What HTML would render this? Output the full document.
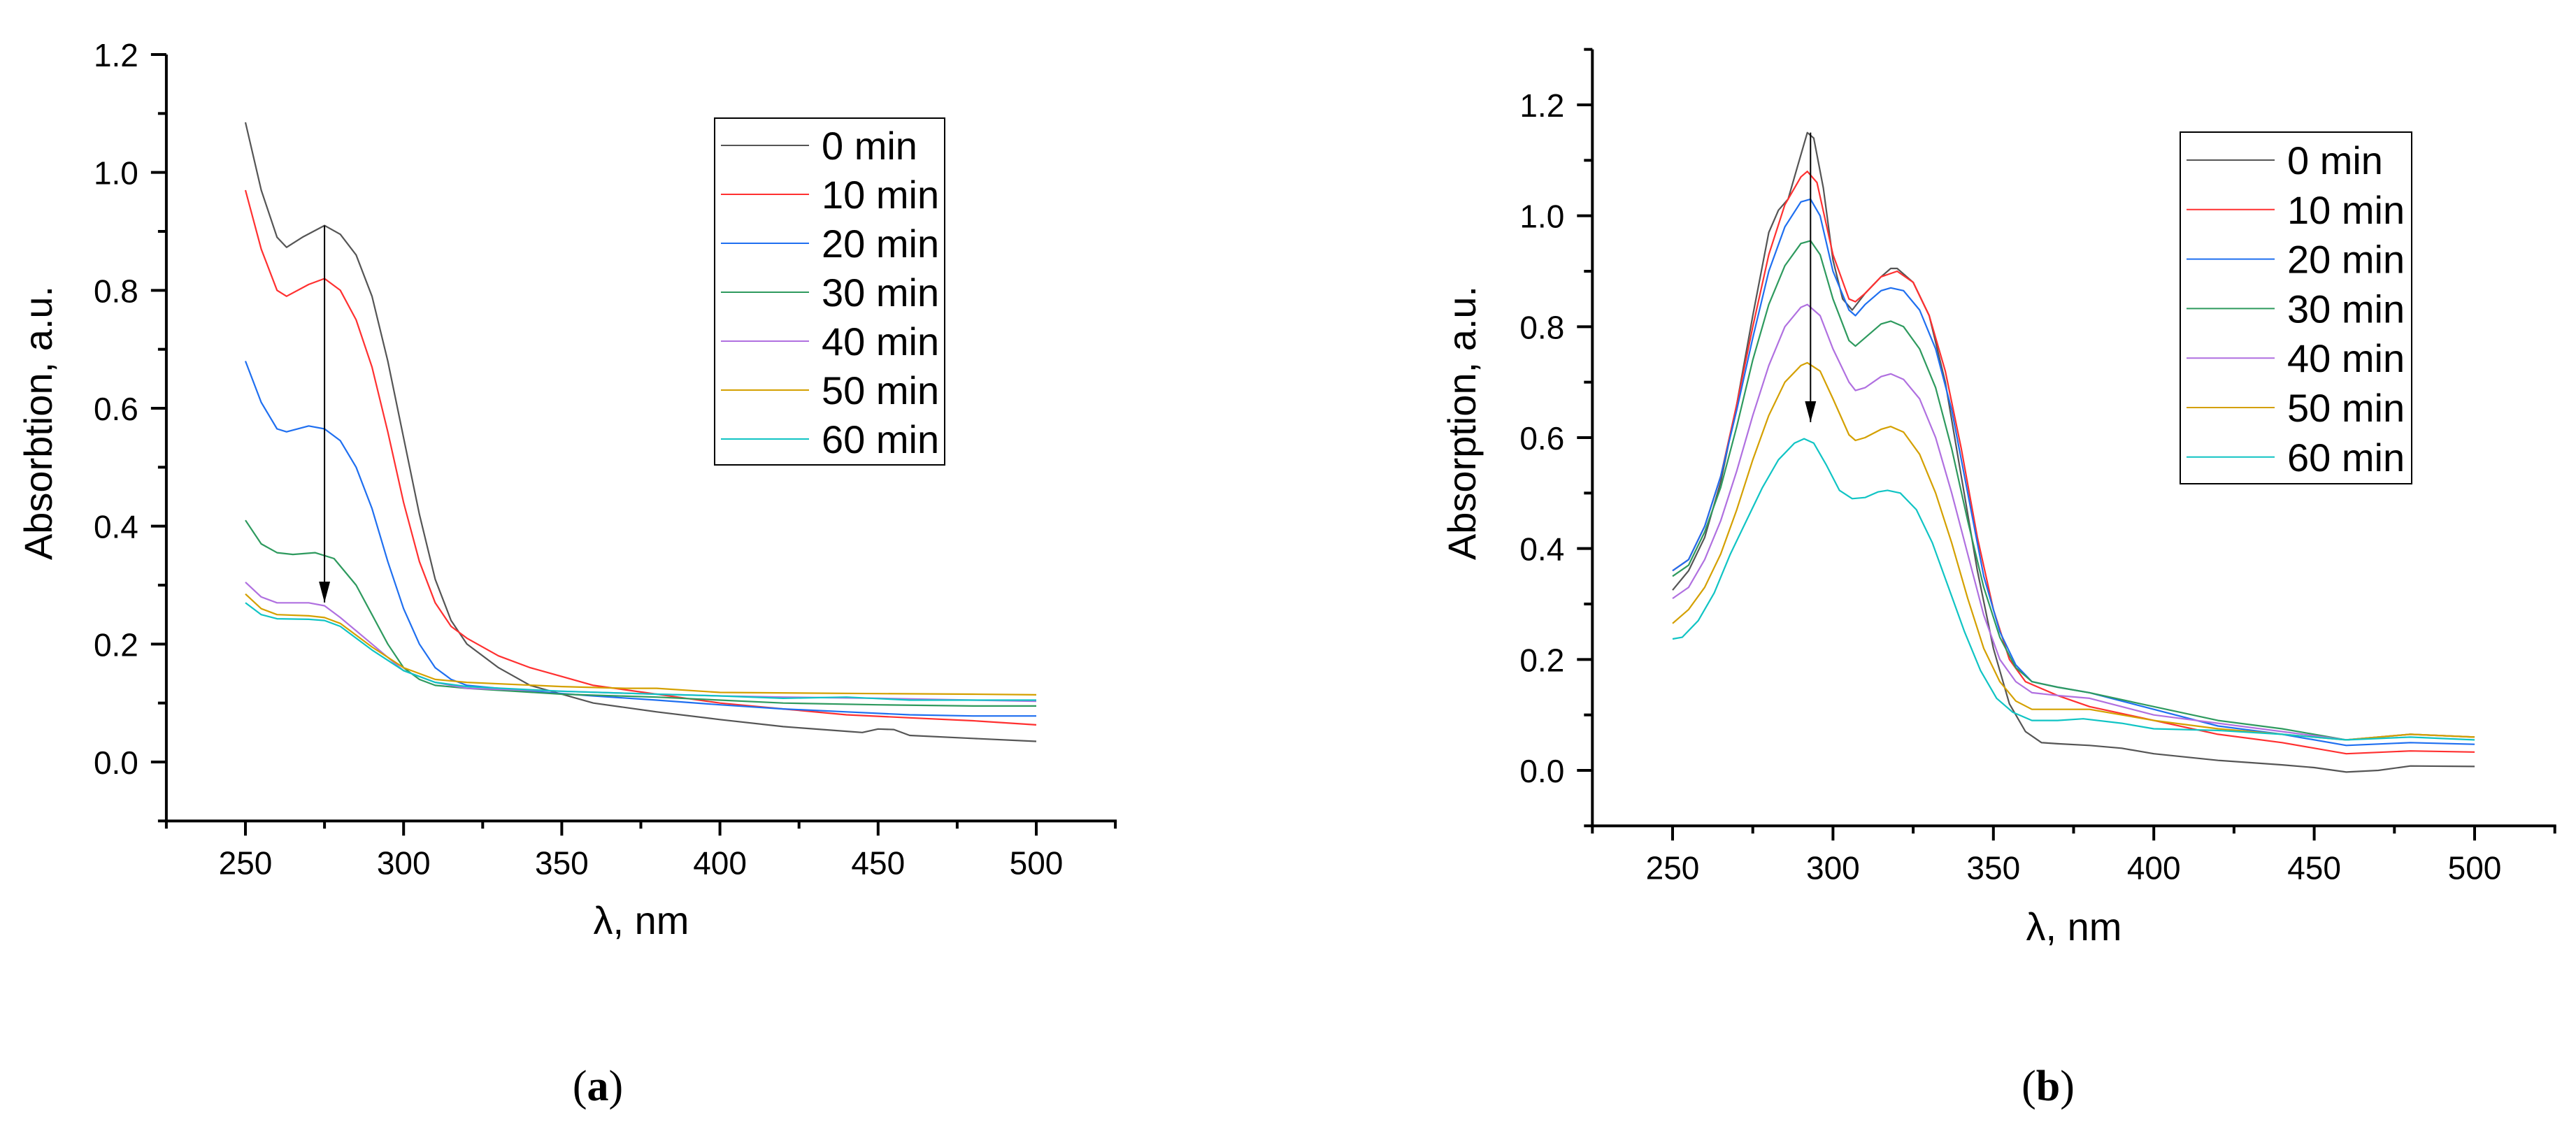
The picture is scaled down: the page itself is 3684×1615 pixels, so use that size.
<!DOCTYPE html>
<html><head><meta charset="utf-8"><style>
html,body{margin:0;padding:0;background:#fff;}
svg{display:block;}
text{font-family:"Liberation Sans",sans-serif;fill:#000;}
</style></head><body>
<svg id="fig" width="3684" height="1615" viewBox="0 0 3684 1615" xmlns="http://www.w3.org/2000/svg">
<defs><marker id="ah" markerWidth="16" markerHeight="30" refX="8" refY="30" orient="0" markerUnits="userSpaceOnUse"><path d="M0,0 L16,0 L8,30 z" fill="#000"/></marker></defs>
<text x="855" y="1574" text-anchor="middle" font-size="62" style="font-family:'Liberation Serif',serif">(<tspan font-weight="bold">a</tspan>)</text>
<text x="2929" y="1574" text-anchor="middle" font-size="62" style="font-family:'Liberation Serif',serif">(<tspan font-weight="bold">b</tspan>)</text>
</svg>
<script>
const legendLabels = ["0 min","10 min","20 min","30 min","40 min","50 min","60 min"];
const seriesColors = ["#555555","#ff3030","#1f6ff0","#2e9a5e","#b070e0","#d4a000","#10c4c4"];

// Panel A data
const aX0 = [250,255,260,263,268,275,280,285,290,295,300,305,310,315,320,330,340,350,360,380,400,420,440,445,450,455,460,480,500];
const aY0 = [1.085,0.97,0.89,0.873,0.89,0.91,0.895,0.86,0.79,0.68,0.55,0.42,0.31,0.24,0.2,0.16,0.13,0.115,0.1,0.085,0.072,0.06,0.052,0.05,0.056,0.055,0.045,0.04,0.035];
const aX1 = [250,255,260,263,270,275,280,285,290,295,300,305,310,315,320,330,340,350,360,380,400,420,440,460,480,500];
const aY1 = [0.97,0.87,0.8,0.79,0.81,0.82,0.8,0.75,0.67,0.56,0.44,0.34,0.27,0.23,0.21,0.18,0.16,0.145,0.13,0.115,0.1,0.09,0.08,0.075,0.07,0.063];
const aX2 = [250,255,260,263,270,275,280,285,290,295,300,305,310,315,320,340,360,380,400,420,440,460,480,500];
const aY2 = [0.68,0.61,0.565,0.56,0.57,0.565,0.545,0.5,0.43,0.34,0.26,0.2,0.16,0.14,0.13,0.12,0.112,0.105,0.097,0.09,0.085,0.08,0.078,0.078];
const aX3 = [250,255,260,265,272,278,285,290,295,300,305,310,320,350,380,400,420,450,480,500];
const aY3 = [0.41,0.37,0.355,0.352,0.355,0.345,0.3,0.25,0.2,0.16,0.14,0.13,0.125,0.115,0.11,0.105,0.1,0.097,0.095,0.095];
const aX4 = [250,255,260,270,275,280,290,300,310,320,350,380,400,420,450,480,500];
const aY4 = [0.305,0.28,0.27,0.27,0.265,0.245,0.2,0.155,0.135,0.125,0.12,0.115,0.112,0.11,0.108,0.105,0.103];
const aX5 = [250,255,260,270,275,280,290,300,310,320,350,370,380,400,450,480,500];
const aY5 = [0.285,0.26,0.25,0.248,0.245,0.235,0.195,0.16,0.14,0.135,0.128,0.125,0.125,0.118,0.116,0.115,0.114];
const aX6 = [250,255,260,270,275,280,290,300,310,320,350,380,400,420,440,460,480,500];
const aY6 = [0.27,0.25,0.243,0.242,0.24,0.23,0.19,0.155,0.135,0.128,0.12,0.115,0.112,0.108,0.11,0.105,0.105,0.105];

// Panel B data
const bX0 = [250,255,260,265,270,275,280,283,286,289,292,294,297,300,303,306,310,315,318,320,325,330,335,340,345,350,355,360,365,370,380,390,400,420,440,450,460,470,480,500];
const bY0 = [0.325,0.36,0.42,0.52,0.66,0.82,0.97,1.01,1.03,1.09,1.15,1.14,1.05,0.92,0.85,0.83,0.86,0.89,0.905,0.905,0.88,0.82,0.7,0.53,0.36,0.22,0.12,0.07,0.05,0.048,0.045,0.04,0.03,0.018,0.01,0.005,-0.003,0.0,0.008,0.007];
const bX1 = [250,255,260,265,270,275,280,285,290,292,295,300,305,307,310,315,320,325,330,335,340,345,350,355,360,370,380,400,420,440,460,480,500];
const bY1 = [0.36,0.38,0.44,0.53,0.66,0.8,0.93,1.02,1.07,1.08,1.06,0.93,0.85,0.845,0.86,0.89,0.9,0.88,0.82,0.72,0.58,0.42,0.29,0.2,0.16,0.135,0.115,0.09,0.065,0.05,0.03,0.035,0.033];
const bX2 = [250,255,260,265,270,275,280,285,290,293,296,300,305,307,310,315,318,322,327,332,337,342,347,352,357,362,370,380,400,420,440,460,480,500];
const bY2 = [0.36,0.38,0.44,0.53,0.65,0.78,0.9,0.98,1.025,1.03,1.0,0.9,0.83,0.82,0.84,0.865,0.87,0.865,0.83,0.76,0.65,0.5,0.35,0.25,0.19,0.16,0.15,0.14,0.11,0.08,0.065,0.045,0.05,0.047];
const bX3 = [250,255,260,265,270,275,280,285,290,293,296,300,305,307,310,315,318,322,327,332,337,342,347,352,357,362,370,380,400,420,440,460,480,500];
const bY3 = [0.35,0.37,0.43,0.51,0.62,0.74,0.84,0.91,0.95,0.955,0.93,0.85,0.775,0.765,0.78,0.805,0.81,0.8,0.76,0.69,0.58,0.45,0.33,0.24,0.185,0.16,0.15,0.14,0.115,0.09,0.075,0.055,0.065,0.06];
const bX4 = [250,255,260,265,270,275,280,285,290,292,296,300,305,307,310,315,318,322,327,332,337,342,347,352,357,362,370,380,400,420,440,460,480,500];
const bY4 = [0.31,0.33,0.38,0.45,0.54,0.64,0.73,0.8,0.835,0.84,0.82,0.76,0.7,0.685,0.69,0.71,0.715,0.705,0.67,0.6,0.5,0.39,0.28,0.2,0.16,0.14,0.135,0.13,0.1,0.085,0.07,0.055,0.065,0.06];
const bX5 = [250,255,260,265,270,275,280,285,290,292,296,300,305,307,310,315,318,322,327,332,337,342,347,352,357,362,370,380,400,420,440,460,480,500];
const bY5 = [0.265,0.29,0.33,0.39,0.47,0.56,0.64,0.7,0.73,0.735,0.72,0.67,0.605,0.595,0.6,0.615,0.62,0.61,0.57,0.5,0.41,0.31,0.22,0.16,0.125,0.11,0.11,0.11,0.09,0.075,0.065,0.055,0.065,0.06];
const bX6 = [250,253,258,263,268,273,278,283,288,291,294,298,302,306,310,314,317,321,326,331,336,341,346,351,356,362,370,378,390,400,420,440,460,480,500];
const bY6 = [0.237,0.24,0.27,0.32,0.39,0.45,0.51,0.56,0.59,0.598,0.59,0.55,0.505,0.49,0.492,0.502,0.505,0.5,0.47,0.41,0.33,0.25,0.18,0.13,0.105,0.09,0.09,0.093,0.085,0.075,0.072,0.065,0.055,0.06,0.055];

const yTicks = [0.0,0.2,0.4,0.6,0.8,1.0,1.2];
const xTicks = [250,300,350,400,450,500];

const NS = "http://www.w3.org/2000/svg";
const fig = document.getElementById('fig');
function mk(tag, attrs, parent){const e=document.createElementNS(NS,tag);for(const k in attrs)e.setAttribute(k,attrs[k]);(parent||fig).appendChild(e);return e;}

function panel(cfg){
  const g = mk('g',{});
  
  
  const sx = v => cfg.x0px + (v - cfg.xmin) * (cfg.x1px - cfg.x0px) / (cfg.xmax - cfg.xmin);
  const sy = v => cfg.y0px - (v - 0) * (cfg.y0px - cfg.y1px) / 1.2;
  const axL = sx(225), axR = sx(525), axB = sy(-0.1), axT = sy(cfg.ytop);
  cfg.xs.forEach((xa,i)=>{
    const ya = cfg.ys[i];
    const pts = xa.map((x,j)=>sx(x).toFixed(1)+','+sy(ya[j]).toFixed(1)).join(' ');
    const pl = mk('polyline',{points:pts,fill:'none',stroke:seriesColors[i],'stroke-width':2.2,'stroke-linejoin':'round'},g);
    
    
  });
  const ar = mk('line',{x1:sx(cfg.arrowX),y1:sy(cfg.arrowFrom),x2:sx(cfg.arrowX),y2:sy(cfg.arrowTo)-30,stroke:'#000','stroke-width':2,'marker-end':'url(#ah)'},g);
  
  
  const ya = mk('line',{x1:axL,y1:axT,x2:axL,y2:axB+2,stroke:'#000','stroke-width':4},g);
  
  
  const xa = mk('line',{x1:axL-2,y1:axB,x2:axR+2,y2:axB,stroke:'#000','stroke-width':4},g);
  
  
  for(let k=-1;k<=Math.round(cfg.ytop*10);k++){
    const v=k/10, y=sy(v), major = (k%2===0);
    mk('line',{x1:axL-(major?22:12),y1:y,x2:axL,y2:y,stroke:'#000','stroke-width':4},g);
  }
  yTicks.forEach(v=>{
    const t = mk('text',{x:axL-40,y:sy(v)+17,'text-anchor':'end','font-size':46},g);
    t.textContent = v.toFixed(1);
    
    
  });
  for(let v=225; v<=525; v+=25){
    const major = (v%50===0);
    mk('line',{x1:sx(v),y1:axB,x2:sx(v),y2:axB+(major?21:11),stroke:'#000','stroke-width':4},g);
  }
  xTicks.forEach(v=>{
    const t = mk('text',{x:sx(v),y:axB+76,'text-anchor':'middle','font-size':46},g);
    t.textContent = String(v);
    
    
  });
  const xt = mk('text',{x:cfg.xtX,y:cfg.xtY,'text-anchor':'middle','font-size':56},g);
  xt.textContent = 'λ, nm';
  
  
  const yt = mk('text',{x:0,y:0,'text-anchor':'middle','font-size':56,transform:`translate(${cfg.ytX},605) rotate(-90)`},g);
  yt.textContent = cfg.ytitle;
  
  
  const lg = mk('g',{},g);
  
  
  mk('rect',{x:cfg.lg.x,y:cfg.lg.y,width:cfg.lg.w,height:cfg.lg.h,fill:'#fff',stroke:'#000','stroke-width':2},lg);
  legendLabels.forEach((lab,i)=>{
    const yy = cfg.lg.row0 + i*cfg.lg.dy;
    const e = mk('g',{},lg);
    
    
    mk('line',{x1:cfg.lg.lx1,y1:yy,x2:cfg.lg.lx2,y2:yy,stroke:seriesColors[i],'stroke-width':2},e);
    const t = mk('text',{x:cfg.lg.tx,y:yy+20,'font-size':56},e);
    t.textContent = lab;
  });
}

panel({name:'chart-a', x0px:351, x1px:1482, xmin:250, xmax:500, y0px:1090, y1px:78, ytop:1.2,
  xs:[aX0,aX1,aX2,aX3,aX4,aX5,aX6], ys:[aY0,aY1,aY2,aY3,aY4,aY5,aY6],
  arrowX:275, arrowFrom:0.91, arrowTo:0.235, xtX:917, xtY:1336, ytX:74, ytitle:'Absorbtion, a.u.',
  lg:{x:1022,y:169,w:329,h:496,row0:208,dy:70,lx1:1031,lx2:1157,tx:1175}});
panel({name:'chart-b', x0px:2392, x1px:3539, xmin:250, xmax:500, y0px:1102, y1px:150, ytop:1.3,
  xs:[bX0,bX1,bX2,bX3,bX4,bX5,bX6], ys:[bY0,bY1,bY2,bY3,bY4,bY5,bY6],
  arrowX:293, arrowFrom:1.15, arrowTo:0.59, xtX:2966, xtY:1345, ytX:2110, ytitle:'Absorption, a.u.',
  lg:{x:3118,y:189,w:331,h:503,row0:229,dy:70.8,lx1:3127,lx2:3253,tx:3271}});
</script>
</body></html>
